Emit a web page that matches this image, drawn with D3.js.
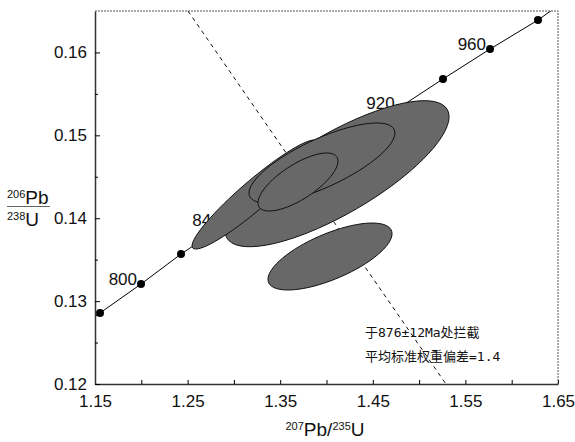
<!DOCTYPE html>
<html>
<head>
<meta charset="utf-8">
<script src="https://cdn.jsdelivr.net/npm/d3@7"></script>
<style>
body { margin: 0; background: #fff; }
text { font-family: "Liberation Sans", Arial, sans-serif; }
</style>
</head>
<body>
<script>
// DONNEES

// concordia : ages (Ma) et coordonnees 207Pb/235U, 206Pb/238U
var ages  = [760, 780, 800, 820, 840, 860, 880, 900, 920, 940, 960, 980, 1000];
var concX = [1.114, 1.1554, 1.1997, 1.2429, 1.290, 1.337, 1.384, 1.431, 1.478, 1.5258, 1.5766, 1.6284, 1.677];
var concY = [0.1251, 0.12857, 0.13206, 0.13568, 0.1392, 0.1427, 0.1462, 0.1497, 0.1533, 0.1568, 0.16041, 0.16391, 0.1678];
var dotAges = [780, 800, 820, 840, 860, 880, 900, 920, 940, 960, 980];
var labelAges = [800, 840, 880, 920, 960];

// ellipses d'erreur : centre, demi-largeurs et correlation
var ellX   = [1.4114, 1.3228, 1.3951, 1.3692, 1.4038];
var ellY   = [0.14537, 0.14286, 0.14666, 0.14437, 0.13538];
var ellSx  = [0.1210, 0.0680, 0.0788, 0.0432, 0.0670];
var ellSy  = [0.00881, 0.00658, 0.00483, 0.00350, 0.00404];
var ellRho = [0.78, 0.94, 0.75, 0.72, 0.68];

// droite discordia
var discX = [1.2504, 1.529];
var discY = [0.165, 0.12];

var xTicks = [1.15, 1.20, 1.25, 1.30, 1.35, 1.40, 1.45, 1.50, 1.55, 1.60, 1.65];
var xLabels = [1.15, 1.25, 1.35, 1.45, 1.55, 1.65];
var yTicks = [0.12, 0.13, 0.14, 0.15, 0.16];
var yMinor = [0.125, 0.135, 0.145, 0.155];

var notes = ["于876±12Ma处拦截", "平均标准权重偏差=1.4"];

// SVG
var W = 575, H = 442;
var svg = d3.select("body").append("svg")
    .attr("width", W)
    .attr("height", H);

// ECHELLES
var absc = d3.scaleLinear().domain([1.15, 1.65]).range([95, 558]);
var ordo = d3.scaleLinear().domain([0.12, 0.165]).range([384, 11]);

svg.append("clipPath").attr("id", "zone")
    .append("rect")
    .attr("x", 95).attr("y", 11)
    .attr("width", 463).attr("height", 373);

var plot = svg.append("g").attr("clip-path", "url(#zone)");

// concordia
var conc = ages.map(function(a, i) { return [concX[i], concY[i]]; });
var ligne = d3.line()
    .x(function(d) { return absc(d[0]); })
    .y(function(d) { return ordo(d[1]); });

plot.append("path")
    .datum(conc)
    .attr("d", ligne)
    .attr("fill", "none")
    .attr("stroke", "#000")
    .attr("stroke-width", 1);

var dots = dotAges.map(function(a) { var i = ages.indexOf(a); return [concX[i], concY[i]]; });
plot.selectAll("circle.pt").data(dots).enter().append("circle")
    .attr("class", "pt")
    .attr("cx", function(d) { return absc(d[0]); })
    .attr("cy", function(d) { return ordo(d[1]); })
    .attr("r", 4)
    .attr("fill", "#000");

// etiquettes d'age (sous les ellipses)
plot.selectAll("text.age").data(labelAges).enter().append("text")
    .attr("class", "age")
    .attr("x", function(a) { return absc(concX[ages.indexOf(a)]) - 4; })
    .attr("y", function(a) { return ordo(concY[ages.indexOf(a)]) + 1; })
    .attr("text-anchor", "end")
    .attr("font-size", 17)
    .attr("fill", "#111")
    .text(function(a) { return a; });

// discordia
plot.append("path")
    .datum(discX.map(function(x, i) { return [x, discY[i]]; }))
    .attr("d", ligne)
    .attr("fill", "none")
    .attr("stroke", "#111")
    .attr("stroke-width", 1)
    .attr("stroke-dasharray", "4,4");

// ellipses
var pts = d3.range(73).map(function(k) { return k * 2 * Math.PI / 72; });
var ferme = d3.line()
    .x(function(d) { return absc(d[0]); })
    .y(function(d) { return ordo(d[1]); })
    .curve(d3.curveLinearClosed);

ellX.forEach(function(cx, i) {
  var q = Math.sqrt(1 - ellRho[i] * ellRho[i]);
  var contour = pts.map(function(t) {
    return [cx + ellSx[i] * Math.cos(t),
            ellY[i] + ellSy[i] * (ellRho[i] * Math.cos(t) + q * Math.sin(t))];
  });
  plot.append("path")
      .datum(contour)
      .attr("d", ferme)
      .attr("fill", "#686868")
      .attr("stroke", "#111")
      .attr("stroke-width", 1);
});

// AXES
var axeX = svg.append("g")
    .attr("transform", "translate(0,384)")
    .call(d3.axisBottom(absc)
        .tickValues(xTicks)
        .tickSizeInner(-4).tickSizeOuter(0)
        .tickPadding(11)
        .tickFormat(function(d) {
          return xLabels.some(function(l) { return Math.abs(l - d) < 1e-6; }) ? d3.format(".2f")(d) : "";
        }));

var axeY = svg.append("g")
    .attr("transform", "translate(95,0)")
    .call(d3.axisLeft(ordo)
        .tickValues(yTicks)
        .tickSizeInner(-5).tickSizeOuter(0)
        .tickPadding(8)
        .tickFormat(d3.format(".2f")));

svg.append("g")
    .attr("transform", "translate(95,0)")
    .call(d3.axisLeft(ordo).tickValues(yMinor).tickSizeInner(-3).tickSizeOuter(0).tickFormat(""))
    .select(".domain").remove();

[axeX, axeY].forEach(function(a) {
  a.select(".domain").attr("stroke", "#333").attr("stroke-width", 1.5);
  a.selectAll("text").attr("font-size", 17).attr("fill", "#111")
      .style("font-family", "'Liberation Sans', Arial, sans-serif");
});

// cadre haut et droit
svg.append("path")
    .attr("d", "M95,11H558V384")
    .attr("fill", "none")
    .attr("stroke", "#555")
    .attr("stroke-width", 1)
    .attr("stroke-dasharray", "2,1");

// titres
var tx = svg.append("text")
    .attr("x", 325).attr("y", 436)
    .attr("text-anchor", "middle")
    .attr("font-size", 19)
    .attr("fill", "#111");
tx.append("tspan").attr("font-size", 11).attr("dy", -6).text("207");
tx.append("tspan").attr("dy", 6).text("Pb/");
tx.append("tspan").attr("font-size", 11).attr("dy", -6).text("235");
tx.append("tspan").attr("dy", 6).text("U");

var ty1 = svg.append("text").attr("x", 7).attr("y", 204).attr("font-size", 19).attr("fill", "#111");
ty1.append("tspan").attr("font-size", 11).attr("dy", -6).text("206");
ty1.append("tspan").attr("dy", 6).text("Pb");

svg.append("line")
    .attr("x1", 7).attr("x2", 50)
    .attr("y1", 206.5).attr("y2", 206.5)
    .attr("stroke", "#666").attr("stroke-width", 1);

var ty2 = svg.append("text").attr("x", 7).attr("y", 226).attr("font-size", 19).attr("fill", "#111");
ty2.append("tspan").attr("font-size", 11).attr("dy", -6).text("238");
ty2.append("tspan").attr("dy", 6).text("U");

// annotation
svg.selectAll("text.note").data(notes).enter().append("text")
    .attr("class", "note")
    .attr("x", 365)
    .attr("y", function(d, i) { return 337 + i * 24; })
    .attr("font-size", 13)
    .attr("fill", "#111")
    .style("font-family", "'DejaVu Sans Mono', 'Noto Sans CJK SC', monospace")
    .text(function(d) { return d; });
</script>
</body>
</html>
